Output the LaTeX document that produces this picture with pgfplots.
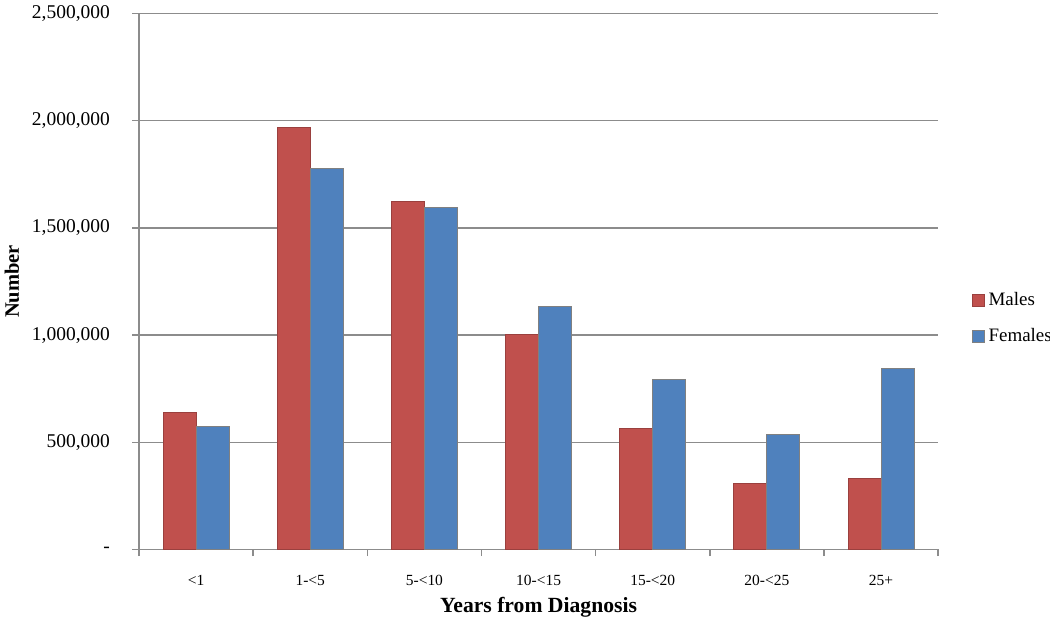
\documentclass[border=0pt]{standalone}
\usepackage{pgfplots}
\pgfplotsset{compat=1.18}
\usepackage{fontspec}
\setmainfont{Liberation Serif}
\definecolor{mred}{HTML}{C0504D}
\definecolor{fblue}{HTML}{4F81BD}
\definecolor{axgray}{HTML}{8C8C8C}
\begin{document}
\begin{tikzpicture}
\begin{axis}[
    ybar=0pt,
    bar width=19.8pt,
    scale only axis,
    width=480pt,
    height=322pt,
    xmin=-0.5, xmax=6.5,
    ymin=0, ymax=2500000,
    axis x line*=bottom,
    axis y line*=left,
    axis line style={axgray, line width=0.9pt},
    xtick={-0.5,0.5,...,6.5},
    xticklabels={},
    xtick style={axgray, line width=0.9pt},
    extra x ticks={0,...,6},
    extra x tick labels={{<1},{1-<5},{5-<10},{10-<15},{15-<20},{20-<25},{25+}},
    extra x tick style={major tick length=0pt, grid=none},
    x tick label style={font=\fontsize{9.3}{10}\selectfont, yshift=-12pt},
    ytick={0,500000,...,2500000},
    yticklabels={-,{500,000},{1,000,000},{1,500,000},{2,000,000},{2,500,000}},
    scaled y ticks=false,
    y tick label style={font=\fontsize{11.7}{13}\selectfont, xshift=-10pt},
    ytick style={axgray, line width=0.9pt},
    tick align=outside,
    major tick length=4pt,
    ymajorgrids,
    grid style={axgray, line width=0.9pt},
    xlabel={\textbf{Years from Diagnosis}},
    ylabel={\textbf{Number}},
    xlabel style={font=\fontsize{13}{15}\selectfont, at={(rel axis cs:0.5,-0.107)}, anchor=center},
    ylabel style={font=\fontsize{12.3}{14}\selectfont, at={(rel axis cs:-0.159,0.5)}, anchor=center},
    legend style={draw=none, fill=none, at={(rel axis cs:1.036,0.431)}, anchor=west,
        font=\fontsize{11.4}{13}\selectfont, row sep=8.4pt, cells={anchor=west},
        /tikz/every even column/.append style={column sep=0pt}},
    legend image code/.code={\draw[#1] (0pt,-3.6pt) rectangle (7.2pt,3.6pt);},
    clip=false,
]
\addplot[fill=mred, draw=mred!80!black, line width=0.6pt] coordinates {
    (0, 637000) (1, 1969000) (2, 1622000) (3, 1002000) (4, 565000) (5, 306000) (6, 333000)
};
\addplot[fill=fblue, draw=gray, line width=0.6pt] coordinates {
    (0, 573000) (1, 1776000) (2, 1594000) (3, 1132000) (4, 793000) (5, 534000) (6, 844000)
};
\legend{Males, Females}
\coordinate (bl) at (rel axis cs:-0.174,-0.13);
\coordinate (tr) at (rel axis cs:1.140,1.025);
\end{axis}
\pgfresetboundingbox
\path (bl) rectangle (tr);
\end{tikzpicture}
\end{document}
